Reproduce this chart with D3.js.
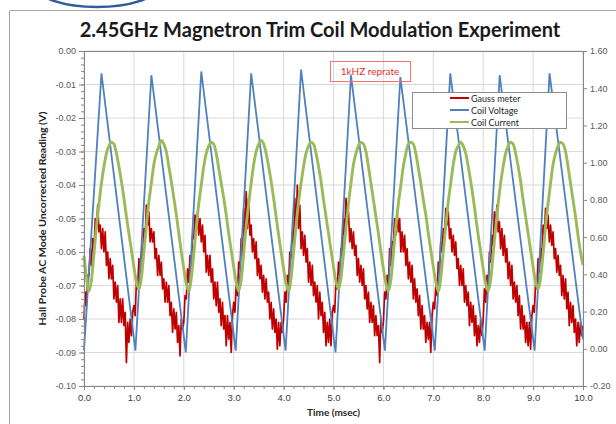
<!DOCTYPE html>
<html>
<head>
<meta charset="utf-8">
<script src="https://cdn.jsdelivr.net/npm/d3@7"></script>
<style>
  body { margin: 0; background: #fff; }
  svg { display: block; font-family: Lato, "Open Sans", sans-serif; }
</style>
</head>
<body>
<div class="chart"></div>
<script>
// DATA
var timeTicks = [0, 1, 2, 3, 4, 5, 6, 7, 8, 9, 10];
var leftTicks = [0, -0.01, -0.02, -0.03, -0.04, -0.05, -0.06, -0.07, -0.08, -0.09, -0.10];
var rightTicks = [1.6, 1.4, 1.2, 1.0, 0.8, 0.6, 0.4, 0.2, 0.0, -0.2];
var seriesNames = ['Gauss meter', 'Coil Voltage', 'Coil Current'];

// Gauss meter (left axis), sampled every 0.025 msec
var gaussStep = 0.025;
var gaussMeter = [
  -0.080,-0.072,-0.076,-0.067,-0.067,-0.059,-0.064,-0.056,-0.060,-0.050,-0.053,-0.046,-0.054,-0.052,-0.059,-0.053,-0.060,-0.054,-0.064,-0.060,
  -0.068,-0.062,-0.068,-0.064,-0.074,-0.069,-0.075,-0.070,-0.081,-0.074,-0.081,-0.074,-0.082,-0.078,-0.093,-0.081,-0.087,-0.080,-0.085,-0.078,
  -0.076,-0.079,-0.069,-0.071,-0.062,-0.066,-0.060,-0.062,-0.053,-0.056,-0.046,-0.052,-0.048,-0.057,-0.053,-0.057,-0.054,-0.062,-0.059,-0.067,
  -0.061,-0.067,-0.063,-0.071,-0.068,-0.075,-0.069,-0.075,-0.070,-0.079,-0.075,-0.084,-0.077,-0.083,-0.078,-0.087,-0.082,-0.091,-0.080,-0.083,
  -0.081,-0.073,-0.074,-0.065,-0.069,-0.061,-0.065,-0.055,-0.056,-0.049,-0.053,-0.048,-0.055,-0.050,-0.057,-0.052,-0.060,-0.055,-0.066,-0.061,
  -0.067,-0.061,-0.069,-0.065,-0.074,-0.069,-0.076,-0.069,-0.078,-0.074,-0.082,-0.075,-0.083,-0.079,-0.088,-0.079,-0.086,-0.081,-0.090,-0.079,
  -0.075,-0.078,-0.070,-0.073,-0.063,-0.065,-0.056,-0.061,-0.047,-0.055,-0.042,-0.053,-0.044,-0.055,-0.052,-0.060,-0.056,-0.062,-0.057,-0.067,
  -0.062,-0.068,-0.064,-0.072,-0.067,-0.074,-0.068,-0.075,-0.072,-0.080,-0.075,-0.083,-0.077,-0.084,-0.080,-0.089,-0.081,-0.088,-0.081,-0.084,
  -0.080,-0.072,-0.075,-0.067,-0.070,-0.060,-0.062,-0.054,-0.057,-0.044,-0.054,-0.040,-0.053,-0.046,-0.059,-0.054,-0.061,-0.055,-0.063,-0.059,
  -0.069,-0.063,-0.070,-0.064,-0.073,-0.069,-0.075,-0.070,-0.080,-0.072,-0.079,-0.075,-0.084,-0.078,-0.088,-0.081,-0.087,-0.080,-0.088,-0.078,
  -0.076,-0.078,-0.068,-0.071,-0.063,-0.067,-0.059,-0.061,-0.050,-0.055,-0.044,-0.051,-0.048,-0.057,-0.053,-0.059,-0.054,-0.061,-0.058,-0.067,
  -0.062,-0.069,-0.064,-0.070,-0.065,-0.074,-0.070,-0.077,-0.072,-0.081,-0.075,-0.081,-0.076,-0.085,-0.079,-0.085,-0.082,-0.093,-0.080,-0.084,
  -0.081,-0.072,-0.074,-0.067,-0.070,-0.059,-0.064,-0.057,-0.057,-0.050,-0.055,-0.048,-0.054,-0.050,-0.060,-0.054,-0.060,-0.055,-0.064,-0.059,
  -0.068,-0.063,-0.069,-0.064,-0.074,-0.068,-0.075,-0.071,-0.079,-0.073,-0.083,-0.076,-0.083,-0.079,-0.087,-0.081,-0.086,-0.081,-0.090,-0.079,
  -0.075,-0.077,-0.070,-0.073,-0.063,-0.066,-0.057,-0.060,-0.053,-0.056,-0.047,-0.052,-0.048,-0.056,-0.053,-0.060,-0.055,-0.061,-0.057,-0.065,
  -0.062,-0.070,-0.064,-0.070,-0.065,-0.075,-0.070,-0.076,-0.072,-0.082,-0.075,-0.081,-0.076,-0.085,-0.079,-0.088,-0.082,-0.087,-0.080,-0.085,
  -0.080,-0.071,-0.075,-0.067,-0.070,-0.060,-0.063,-0.055,-0.058,-0.048,-0.053,-0.046,-0.054,-0.051,-0.059,-0.053,-0.061,-0.055,-0.063,-0.059,
  -0.068,-0.063,-0.070,-0.064,-0.074,-0.069,-0.075,-0.070,-0.079,-0.073,-0.083,-0.076,-0.083,-0.079,-0.087,-0.081,-0.088,-0.081,-0.089,-0.079,
  -0.076,-0.078,-0.069,-0.071,-0.062,-0.066,-0.059,-0.062,-0.052,-0.055,-0.047,-0.053,-0.049,-0.057,-0.052,-0.058,-0.054,-0.062,-0.059,-0.066,
  -0.061,-0.067,-0.064,-0.073,-0.067,-0.074,-0.068,-0.077,-0.072,-0.082,-0.075,-0.081,-0.076,-0.084,-0.080,-0.088,-0.081,-0.087,-0.081,-0.085,
  -0.082
];

// Coil Current (right axis), sampled every 0.05 msec
var currentStep = 0.05;
var coilCurrent = [
  0.50,0.38,0.31,0.37,0.51,0.66,0.78,0.89,0.98,1.05,1.09,1.11,1.10,1.05,0.98,0.90,0.81,0.71,0.62,0.53,
  0.44,0.36,0.32,0.38,0.52,0.66,0.79,0.89,0.99,1.05,1.09,1.12,1.10,1.06,0.98,0.90,0.81,0.72,0.62,0.52,
  0.43,0.35,0.31,0.38,0.51,0.65,0.78,0.88,0.98,1.05,1.09,1.11,1.10,1.05,0.97,0.89,0.81,0.72,0.62,0.53,
  0.44,0.36,0.31,0.37,0.51,0.66,0.78,0.89,0.99,1.06,1.10,1.12,1.10,1.05,0.98,0.90,0.81,0.71,0.61,0.52,
  0.43,0.35,0.31,0.38,0.52,0.66,0.79,0.89,0.98,1.05,1.09,1.11,1.10,1.05,0.98,0.90,0.80,0.71,0.62,0.53,
  0.44,0.36,0.32,0.38,0.51,0.65,0.78,0.89,0.99,1.05,1.09,1.11,1.10,1.06,0.98,0.89,0.80,0.71,0.62,0.52,
  0.43,0.35,0.31,0.37,0.51,0.66,0.78,0.88,0.98,1.05,1.10,1.11,1.10,1.05,0.97,0.89,0.80,0.72,0.62,0.53,
  0.44,0.36,0.31,0.38,0.52,0.66,0.79,0.89,0.99,1.06,1.09,1.11,1.09,1.05,0.98,0.90,0.81,0.71,0.61,0.52,
  0.43,0.35,0.31,0.37,0.51,0.65,0.78,0.89,0.98,1.05,1.09,1.11,1.10,1.05,0.98,0.90,0.80,0.71,0.62,0.53,
  0.44,0.36,0.32,0.38,0.51,0.66,0.78,0.89,0.99,1.05,1.09,1.11,1.10,1.06,0.98,0.89,0.80,0.71,0.61,0.52,
  0.45
];

// Coil Voltage (right axis), corner points of the triangle wave
var voltageTimes = [0.00, 0.35, 1.03, 1.35, 2.04, 2.35, 3.04, 3.35, 4.04, 4.35, 5.04, 5.35, 6.03, 6.34, 7.03, 7.34, 8.03, 8.33, 9.03, 9.33, 10.00];
var coilVoltage  = [-0.01, 1.48, -0.01, 1.47, -0.02, 1.49, -0.01, 1.48, -0.01, 1.50, -0.02, 1.47, -0.01, 1.46, -0.01, 1.48, -0.01, 1.47, -0.01, 1.48, 0.05];

// LAYOUT
var margin = {top: 51, left: 84},
    width = 499,
    height = 335;
var colors = ['#c00000', '#4f81bd', '#9bbb59'];

var svg = d3.select('.chart')
  .append('svg')
  .attr('width', 616)
  .attr('height', 424);

// logo arc peeking in at the top + chart frame
svg.append('ellipse')
  .attr('cx', 97).attr('cy', -13).attr('rx', 60).attr('ry', 20)
  .attr('fill', 'none').attr('stroke', '#2f5c9b').attr('stroke-width', 2.5);
svg.append('path')
  .attr('d', 'M9.5,424V10.5H616')
  .attr('fill', 'none').attr('stroke', '#a6a6a6');

// title
svg.append('text')
  .attr('x', 320).attr('y', 37)
  .attr('text-anchor', 'middle')
  .style('font-size', '20px').style('font-weight', 'bold').attr('fill', '#1a1a1a')
  .text('2.45GHz Magnetron Trim Coil Modulation Experiment');

// SCALES
var xScale = d3.scaleLinear().domain([0, 10]).range([margin.left, margin.left + width]);
var yLeft = d3.scaleLinear().domain([-0.1, 0]).range([margin.top + height, margin.top]);
var yRight = d3.scaleLinear().domain([-0.2, 1.6]).range([margin.top + height, margin.top]);

// GRID
svg.append('g').selectAll('line')
  .data(leftTicks)
  .enter().append('line')
  .attr('x1', margin.left).attr('x2', margin.left + width)
  .attr('y1', d => yLeft(d)).attr('y2', d => yLeft(d))
  .attr('stroke', '#d9d9d9');
svg.append('g').selectAll('line')
  .data(timeTicks)
  .enter().append('line')
  .attr('x1', d => xScale(d)).attr('x2', d => xScale(d))
  .attr('y1', margin.top).attr('y2', margin.top + height)
  .attr('stroke', '#d9d9d9');

// LINES
var gaussLine = d3.line()
  .x((d, i) => xScale(i * gaussStep))
  .y(d => yLeft(d));
var currentLine = d3.line()
  .x((d, i) => xScale(i * currentStep))
  .y(d => yRight(d))
  .curve(d3.curveMonotoneX);
var voltageLine = d3.line()
  .x((d, i) => xScale(voltageTimes[i]))
  .y(d => yRight(d));

svg.append('path')
  .datum(gaussMeter)
  .attr('d', gaussLine)
  .attr('fill', 'none').attr('stroke', colors[0]).attr('stroke-width', 1.7)
  .attr('stroke-linejoin', 'round');
svg.append('path')
  .datum(coilVoltage)
  .attr('d', voltageLine)
  .attr('fill', 'none').attr('stroke', colors[1]).attr('stroke-width', 1.8);
svg.append('path')
  .datum(coilCurrent)
  .attr('d', currentLine)
  .attr('fill', 'none').attr('stroke', colors[2]).attr('stroke-width', 2.9);

// AXES
function styleAxis(g) {
  g.select('.domain').attr('stroke', '#868686');
  g.selectAll('.tick line').attr('stroke', '#868686');
  g.selectAll('.tick text').attr('fill', '#595959').style('font-size', '9px');
}

svg.append('g')
  .attr('transform', 'translate(' + margin.left + ',0)')
  .call(d3.axisLeft(yLeft).tickValues(d3.range(-0.1, 0.0001, 0.002)).tickSize(3).tickFormat(''))
  .call(styleAxis);
svg.append('g')
  .attr('id', 'y-axis')
  .attr('transform', 'translate(' + margin.left + ',0)')
  .call(d3.axisLeft(yLeft).tickValues(leftTicks).tickSize(5).tickPadding(3).tickFormat(d => d.toFixed(2)))
  .call(styleAxis);

svg.append('g')
  .attr('id', 'y2-axis')
  .attr('transform', 'translate(' + (margin.left + width) + ',0)')
  .call(d3.axisRight(yRight).tickValues(rightTicks).tickSize(4).tickPadding(3).tickFormat(d => d.toFixed(2)))
  .call(styleAxis);

svg.append('g')
  .attr('transform', 'translate(0,' + (margin.top + height) + ')')
  .call(d3.axisBottom(xScale).tickValues(d3.range(0, 10.001, 0.2)).tickSize(3).tickFormat(''))
  .call(styleAxis);
svg.append('g')
  .attr('id', 'x-axis')
  .attr('transform', 'translate(0,' + (margin.top + height) + ')')
  .call(d3.axisBottom(xScale).tickValues(timeTicks).tickSize(4).tickPadding(4).tickFormat(d => d.toFixed(1)))
  .call(styleAxis)
  .call(g => g.selectAll('.tick text').attr('fill', '#404040').style('font-size', '9.5px'));

svg.append('line')
  .attr('x1', margin.left).attr('x2', margin.left + width)
  .attr('y1', margin.top + 0.5).attr('y2', margin.top + 0.5)
  .attr('stroke', '#868686');

// axis titles
svg.append('text')
  .attr('x', margin.left + width / 2).attr('y', 416)
  .attr('text-anchor', 'middle')
  .style('font-size', '10px').style('font-weight', 'bold').attr('fill', '#262626')
  .text('Time (msec)');
svg.append('text')
  .attr('transform', 'translate(46,' + (margin.top + height / 2) + ') rotate(-90)')
  .attr('text-anchor', 'middle')
  .attr('textLength', 214).attr('lengthAdjust', 'spacingAndGlyphs')
  .style('font-size', '9.5px').style('font-weight', 'bold').attr('fill', '#262626')
  .text('Hall Probe AC Mode Uncorrected Reading (V)');

// annotation
svg.append('rect')
  .attr('x', 330.5).attr('y', 61.5).attr('width', 80).attr('height', 20)
  .attr('fill', 'none').attr('stroke', '#ff7070');
svg.append('text')
  .attr('x', 370).attr('y', 75)
  .attr('text-anchor', 'middle')
  .style('font-size', '10px').attr('fill', '#e8302f')
  .text('1kHZ reprate');

// LEGEND
var legend = svg.append('g').attr('transform', 'translate(412,92)');
legend.append('rect')
  .attr('x', 0.5).attr('y', 0.5).attr('width', 154).attr('height', 36)
  .attr('fill', '#fff').attr('stroke', '#8c8c8c');
var item = legend.selectAll('.item')
  .data(seriesNames)
  .enter().append('g')
  .attr('class', 'item')
  .attr('transform', (d, i) => 'translate(0,' + (6 + i * 12) + ')');
item.append('line')
  .attr('x1', 38).attr('x2', 57)
  .attr('stroke', (d, i) => colors[i]).attr('stroke-width', 2);
item.append('text')
  .attr('x', 59).attr('y', 3.5)
  .style('font-size', '9px').attr('fill', '#262626')
  .text(d => d);
</script>
</body>
</html>
